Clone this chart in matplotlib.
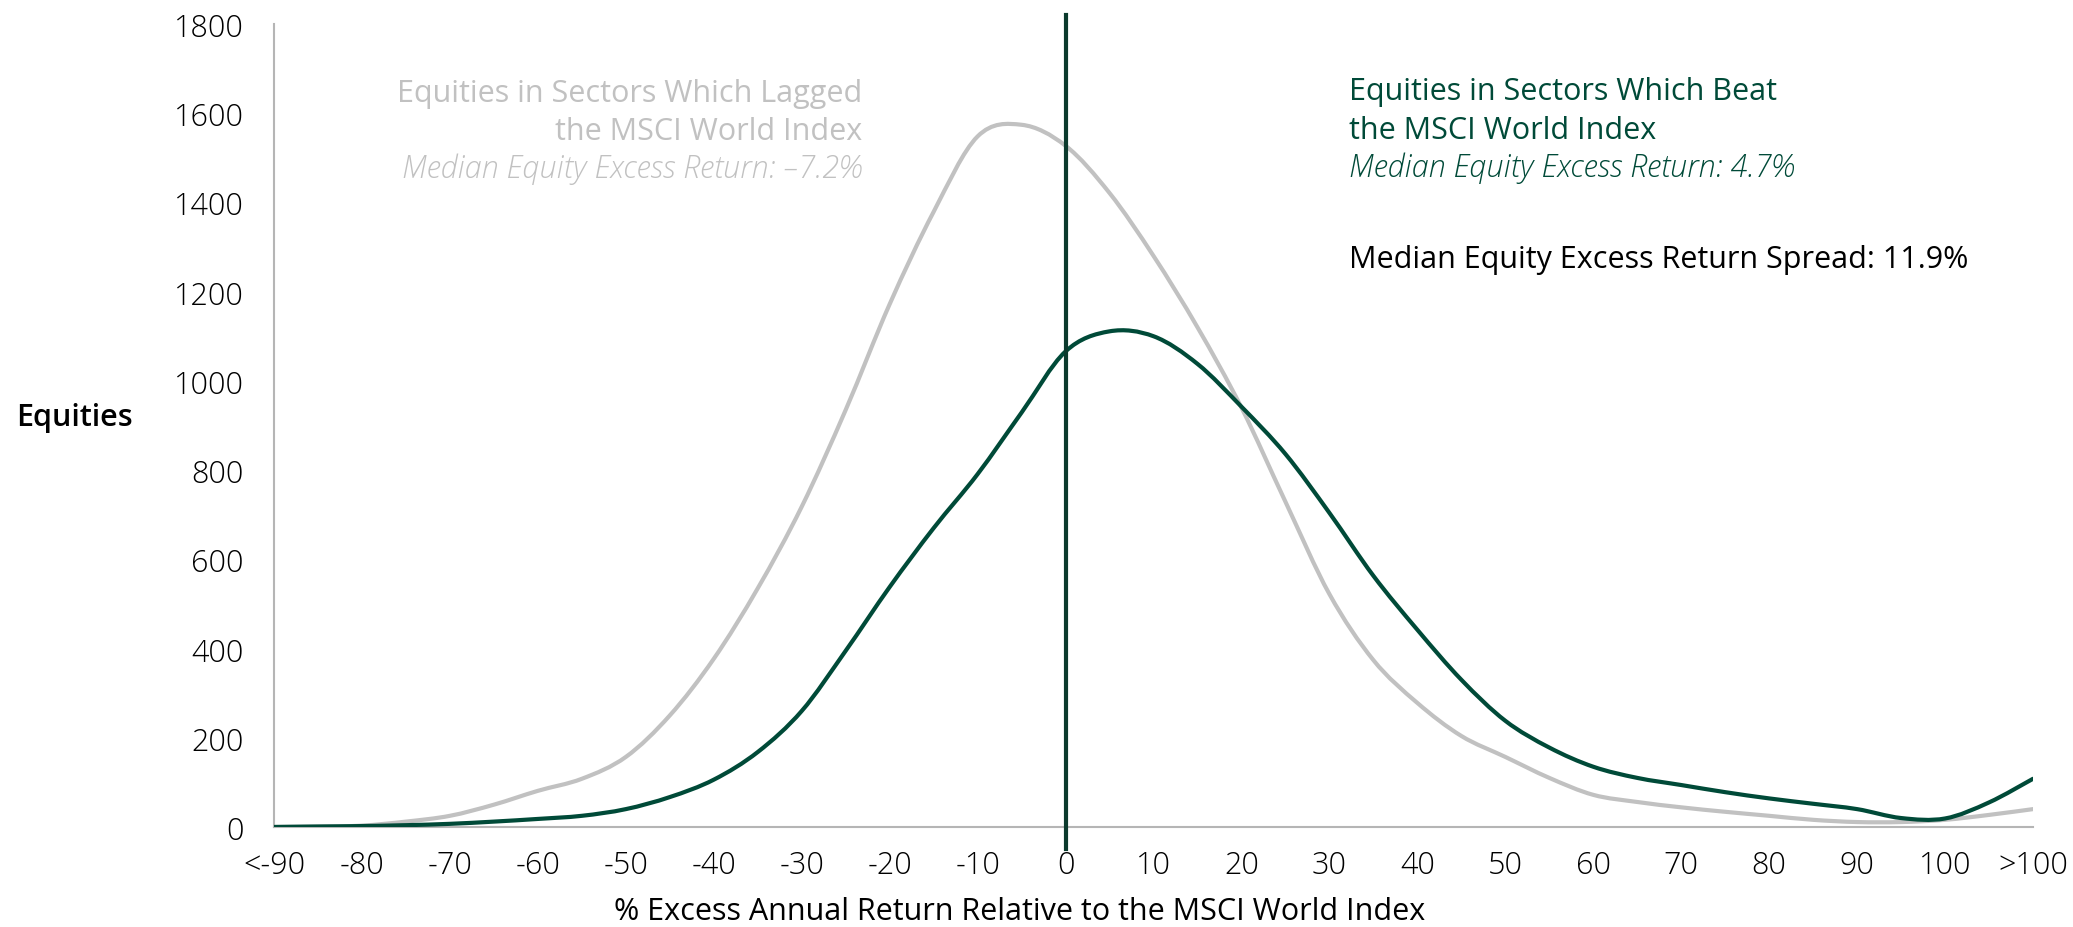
import numpy as np
import matplotlib
matplotlib.use("Agg")
import matplotlib.pyplot as plt
from matplotlib.path import Path
from matplotlib.patches import PathPatch

# excess return buckets (5-pt steps), equity counts per bucket
returns = [-90, -85, -80, -75, -70, -65, -60, -55, -50, -45, -40, -35, -30, -25,
           -20, -15, -10, -5, 0, 5, 10, 15, 20, 25, 30, 35, 40, 45, 50, 55, 60,
           65, 70, 75, 80, 85, 90, 95, 100, 105, 110]
lagged = [0, 1, 3, 12, 25, 50, 81, 108, 157, 250, 377, 535, 718, 935, 1172,
          1379, 1548, 1574, 1527, 1421, 1280, 1120, 940, 729, 522, 374, 278,
          204, 157, 110, 72, 56, 44, 34, 25, 16, 11, 11, 16, 27, 40]
beat = [0, 1, 2, 4, 7, 12, 18, 25, 40, 67, 106, 168, 260, 395, 538, 670, 791,
        929, 1066, 1111, 1100, 1038, 942, 836, 704, 563, 442, 330, 238, 178,
        135, 110, 94, 78, 64, 52, 40, 20, 19, 55, 108]

tick_pos = list(range(-90, 111, 10))
tick_labels = ['<-90', '-80', '-70', '-60', '-50', '-40', '-30', '-20', '-10',
               '0', '10', '20', '30', '40', '50', '60', '70', '80', '90',
               '100', '>100']
y_ticks = [0, 200, 400, 600, 800, 1000, 1200, 1400, 1600, 1800]

GREEN = '#004a38'
DARK = '#0b3a2d'
GREY = '#c1c1c1'
FS = 22

plt.rcParams['font.family'] = ['Open Sans', 'DejaVu Sans']


def smooth_path(xs, ys):
    # catmull-rom spline turned into cubic bezier segments
    p = np.column_stack([xs, ys]).astype(float)
    p = np.vstack([p[0], p, p[-1]])
    verts = [p[1]]
    codes = [Path.MOVETO]
    for i in range(1, len(p) - 2):
        c1 = p[i] + (p[i + 1] - p[i - 1]) / 6
        c2 = p[i + 1] - (p[i + 2] - p[i]) / 6
        verts += [c1, c2, p[i + 1]]
        codes += [Path.CURVE4] * 3
    return Path(verts, codes)


fig = plt.figure(figsize=(20.73, 9.28), dpi=100)
ax = fig.add_axes([0.1322, 0.1078, 0.8485, 0.8653])

ax.add_patch(PathPatch(smooth_path(returns, lagged), fill=False,
                       edgecolor=GREY, lw=3, capstyle='round', zorder=2))
ax.add_patch(PathPatch(smooth_path(returns, beat), fill=False,
                       edgecolor=GREEN, lw=3, capstyle='round', zorder=3))

# zero line runs a little past the axes
ax.plot([0, 0], [-50, 1820], color=DARK, lw=3, clip_on=False, zorder=4)

ax.set_xlim(-90, 110)
ax.set_ylim(0, 1800)
ax.set_xticks(tick_pos)
ax.set_xticklabels(tick_labels)
ax.set_yticks(y_ticks)
ax.tick_params(length=0, labelsize=FS, colors='black')
ax.tick_params(axis='y', pad=22)
ax.tick_params(axis='x', pad=16)
for lab in ax.get_xticklabels() + ax.get_yticklabels():
    lab.set_fontweight('light')

for s in ['top', 'right']:
    ax.spines[s].set_visible(False)
ax.spines['left'].set_color('#b5b5b5')
ax.spines['bottom'].set_color('#b5b5b5')
ax.spines['left'].set_linewidth(1.5)
ax.spines['bottom'].set_linewidth(1.5)

W, H = 2073, 928
fig.text(16 / W, 1 - 418 / H, 'Equities', fontsize=FS, fontweight='semibold',
         ha='left', va='center')
fig.text(1020 / W, 1 - 912 / H,
         '% Excess Annual Return Relative to the MSCI World Index',
         fontsize=FS, ha='center', va='center')

# lagged sectors note
fig.text(862 / W, 1 - 102 / H, 'Equities in Sectors Which Lagged',
         fontsize=FS, color=GREY, ha='right', va='baseline')
fig.text(862 / W, 1 - 140 / H, 'the MSCI World Index',
         fontsize=FS, color=GREY, ha='right', va='baseline')
fig.text(862 / W, 1 - 178 / H, 'Median Equity Excess Return: \u20137.2%',
         fontsize=FS, color=GREY, style='italic', fontweight='light',
         ha='right', va='baseline')

# beating sectors note
fig.text(1349 / W, 1 - 100 / H, 'Equities in Sectors Which Beat',
         fontsize=FS, color=GREEN, ha='left', va='baseline')
fig.text(1349 / W, 1 - 139 / H, 'the MSCI World Index',
         fontsize=FS, color=GREEN, ha='left', va='baseline')
fig.text(1349 / W, 1 - 177 / H, 'Median Equity Excess Return: 4.7%',
         fontsize=FS, color=GREEN, style='italic', fontweight='light',
         ha='left', va='baseline')
fig.text(1349 / W, 1 - 268 / H, 'Median Equity Excess Return Spread: 11.9%',
         fontsize=FS, color='black', ha='left', va='baseline')

fig.savefig('out.png', dpi=100, facecolor='white')
